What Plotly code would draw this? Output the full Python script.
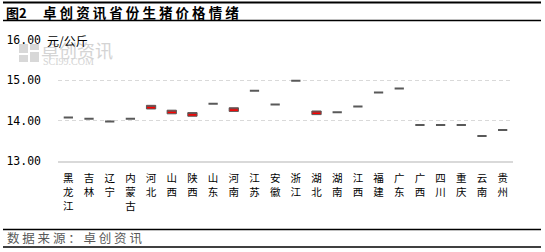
import plotly.graph_objects as go

provinces = ["黑龙江", "吉林", "辽宁", "内蒙古", "河北", "山西", "陕西", "山东", "河南", "江苏", "安徽",
             "浙江", "湖北", "湖南", "江西", "福建", "广东", "广西", "四川", "重庆", "云南", "贵州"]
open_price = [14.08, 14.05, 13.98, 14.05, 14.29, 14.17, 14.11, 14.42, 14.23, 14.74, 14.40,
              14.99, 14.15, 14.21, 14.35, 14.70, 14.80, 13.89, 13.89, 13.89, 13.62, 13.77]
close_price = [14.08, 14.05, 13.98, 14.05, 14.38, 14.26, 14.20, 14.42, 14.32, 14.74, 14.40,
               14.99, 14.24, 14.21, 14.35, 14.70, 14.80, 13.89, 13.89, 13.89, 13.62, 13.77]
y_ticks = [13, 14, 15, 16]
y_tick_labels = ["13.00", "14.00", "15.00", "16.00"]

W, H = 545, 252
L, R, T, B = 58, 513, 40, 161

tick_text = ["<br>".join(list(p)) for p in provinces]

up_idx = [i for i, (o, c) in enumerate(zip(open_price, close_price)) if c > o]
flat_idx = [i for i in range(len(provinces)) if i not in up_idx]

fig = go.Figure()
GRAY = "#595959"
for idx, fill, lw in [(flat_idx, GRAY, 2), (up_idx, "#FF0000", 1)]:
    o = [open_price[i] for i in idx]
    c = [close_price[i] for i in idx]
    fig.add_trace(go.Candlestick(
        x=[provinces[i] for i in idx], open=o, close=c,
        high=[max(a, b) for a, b in zip(o, c)], low=[min(a, b) for a, b in zip(o, c)],
        increasing=dict(fillcolor=fill, line=dict(color=GRAY, width=lw)),
        decreasing=dict(fillcolor=GRAY, line=dict(color=GRAY, width=lw)),
        whiskerwidth=0, showlegend=False, hoverinfo="skip",
    ))

def px(x):
    return (x - L) / (R - L)

def py(y):
    return (B - y) / (B - T)

CJK = "Noto Sans CJK SC"
annotations = [
    dict(text="卓创资讯", x=px(39), y=py(50), xanchor="left", yanchor="middle",
         font=dict(family=CJK, size=18, color="#d4d4d4")),
    dict(text="SCI99.COM", x=px(41), y=py(61), xanchor="left", yanchor="middle",
         font=dict(family="Liberation Serif", size=10, color="#d4d4d4")),
    dict(text="<b>图2</b>", x=px(4), y=py(12), xanchor="left", yanchor="middle",
         font=dict(family=CJK, size=13, color="#000000")),
    dict(text="<b>" + " ".join(list("卓创资讯省份生猪价格情绪")) + "</b>", x=px(41), y=py(12),
         xanchor="left", yanchor="middle", font=dict(family=CJK, size=13.5, color="#000000")),
    dict(text=" ".join(list("数据来源：卓创资讯")), x=px(5), y=py(237.5), xanchor="left", yanchor="middle",
         font=dict(family=CJK, size=12.5, color="#595959")),
    dict(text="元/公斤", x=px(45), y=py(40), xanchor="left", yanchor="middle",
         font=dict(family=CJK, size=12, color="#000000")),
]
for a in annotations:
    a.update(xref="paper", yref="paper", showarrow=False)

shapes = []
for yy, wdt in [(2.5, 2), (20.5, 1.5), (229.5, 1.5), (247, 1.5)]:
    shapes.append(dict(type="line", xref="paper", yref="paper", x0=px(3), x1=px(541),
                       y0=py(yy), y1=py(yy), line=dict(color="#000000", width=wdt)))
# white cover for the top gridline under the unit label
shapes.append(dict(type="rect", xref="paper", yref="paper", x0=px(58), x1=px(96),
                   y0=py(42), y1=py(38), line=dict(width=0), fillcolor="#ffffff", layer="above"))
# watermark logo blocks
for (x0, y0, x1, y1) in [(19, 44, 28, 53), (30, 44, 39, 50), (19, 55, 28, 62), (30, 52, 39, 62)]:
    shapes.append(dict(type="rect", xref="paper", yref="paper", x0=px(x0), x1=px(x1),
                       y0=py(y1), y1=py(y0), line=dict(width=0), fillcolor="#d8d8d8", layer="below"))

fig.update_layout(
    width=W, height=H,
    margin=dict(l=L, r=W - R, t=T, b=H - B, pad=0, autoexpand=False),
    paper_bgcolor="#ffffff", plot_bgcolor="#ffffff",
    boxgap=0.36, boxgroupgap=0.3, boxmode="overlay",
    annotations=annotations, shapes=shapes,
    xaxis=dict(
        type="category", rangeslider=dict(visible=False), automargin=False,
        tickmode="array", tickvals=provinces, ticktext=tick_text,
        tickfont=dict(family=CJK, size=10.5, color="#000000"),
        showgrid=False, showline=True, linecolor="#d9d9d9", linewidth=1.5,
        ticks="", ticklabelstandoff=7, tickangle=0, fixedrange=True,
        range=[-0.5, len(provinces) - 0.5],
        categoryorder="array", categoryarray=provinces,
    ),
    yaxis=dict(
        range=[13, 16], tickmode="array", tickvals=y_ticks, ticktext=y_tick_labels,
        automargin=False,
        tickfont=dict(family="DejaVu Sans Mono", size=11.5, color="#000000"),
        showgrid=True, gridcolor="#d9d9d9", griddash="4px,3px", gridwidth=1,
        zeroline=False, showline=False, ticks="", ticklabelstandoff=16,
    ),
)

fig.write_html("out.html")
